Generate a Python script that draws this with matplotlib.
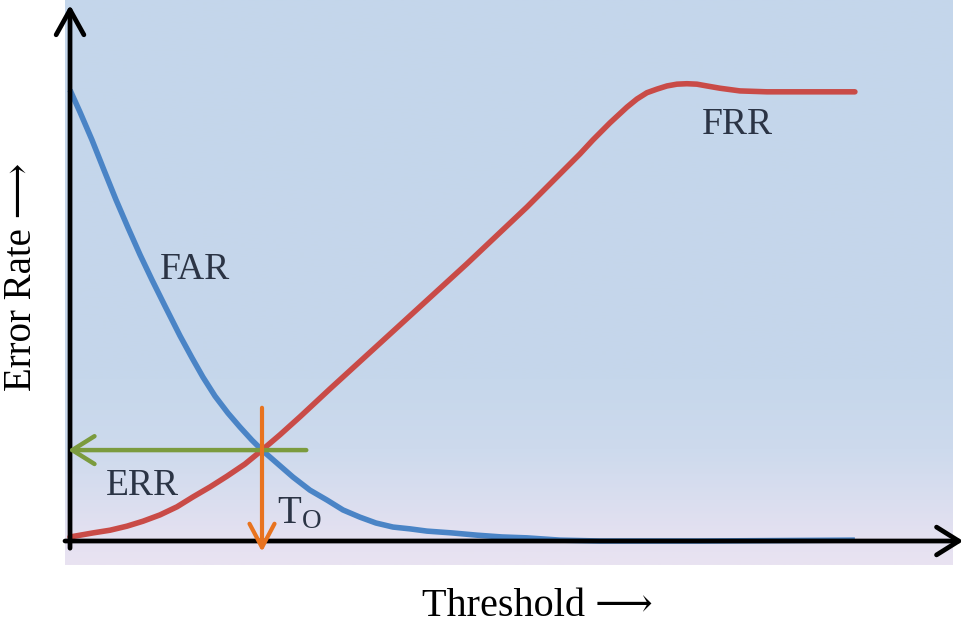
import numpy as np
import matplotlib
matplotlib.use('Agg')
import matplotlib.pyplot as plt

# Curves (threshold 0-100, error rate 0-100)
far_x = [0.0, 1.27, 2.80, 4.33, 5.86, 7.39, 8.92, 10.45, 12.10, 14.01, 15.54,
         16.94, 18.47, 20.13, 21.66, 23.18, 24.46, 26.50, 28.41, 30.57, 32.74,
         34.78, 36.94, 38.98, 41.15, 43.31, 45.48, 48.66, 51.85, 55.03, 58.22,
         62.42, 67.52, 80.25, 100.0]
far_y = [100.2, 95.3, 89.1, 82.4, 75.8, 69.6, 63.6, 58.0, 52.2, 45.6, 40.7,
         36.4, 32.2, 28.4, 25.3, 22.4, 20.2, 17.1, 14.2, 11.3, 9.1,
         6.9, 5.3, 4.0, 3.1, 2.7, 2.2, 1.8, 1.3, 0.9, 0.7,
         0.2, 0.0, 0.0, 0.2]

frr_x = [0.0, 2.93, 5.10, 7.26, 9.30, 11.46, 13.63, 15.67, 17.83, 20.0, 22.29,
         24.46, 26.75, 29.30, 33.12, 42.04, 50.57, 58.22, 63.31, 64.97, 66.62,
         68.79, 70.96, 72.23, 73.50, 74.78, 76.05, 77.32, 78.60, 79.87, 81.15,
         82.80, 85.35, 88.79, 100.0]
frr_y = [0.9, 1.8, 2.4, 3.3, 4.4, 5.8, 7.6, 9.8, 12.0, 14.4, 17.1,
         20.2, 23.6, 27.6, 33.8, 48.0, 61.6, 74.2, 83.1, 86.0, 89.1,
         92.9, 96.4, 98.2, 99.6, 100.4, 101.1, 101.5, 101.6, 101.5, 101.1,
         100.6, 100.0, 99.8, 99.8]

# equal error point and threshold
err_point = (24.46, 20.2)
labels = {'FAR': (15.9, 60.2), 'ERR': (9.2, 12.2), 'FRR': (85.0, 92.4)}

TEXT_COLOR = '#2b3445'
SERIF = ['Liberation Serif', 'DejaVu Serif', 'DejaVu Sans']

fig = plt.figure(figsize=(9.68, 6.3), dpi=100)
ax = fig.add_axes([65 / 968, 65 / 630, 888 / 968, 565 / 630])
xlim = (-0.64, 112.5)
ylim = (-5.33, 120.2)
ax.set_xlim(xlim)
ax.set_ylim(ylim)
ax.axis('off')

# background gradient: blue over most of the plot, lavender near the bottom
pos = np.array([0.0, 0.044, 0.115, 0.204, 0.327, 1.0])   # fraction from bottom
cols = np.array([
    [233, 227, 241],
    [229, 225, 241],
    [218, 222, 239],
    [205, 218, 237],
    [198, 215, 235],
    [196, 214, 235],
]) / 255.0
t = np.linspace(0, 1, 500)
grad = np.stack([np.interp(t, pos, cols[:, i]) for i in range(3)], axis=-1)
grad = grad[::-1][:, None, :]
ax.imshow(grad, extent=[xlim[0], xlim[1], ylim[0], ylim[1]], aspect='auto',
          zorder=0, interpolation='bilinear')

# curves
ax.plot(far_x, far_y, color='#4a84c6', lw=4.0, solid_capstyle='butt',
        solid_joinstyle='round', zorder=3)
ax.plot(frr_x, frr_y, color='#c94b47', lw=4.0, solid_capstyle='round',
        solid_joinstyle='round', zorder=3)


def arrow(tail, tip, color, lw, hl, hw):
    ax.annotate('', xy=tip, xytext=tail,
                arrowprops=dict(arrowstyle=f'->,head_length={hl},head_width={hw}',
                                color=color, lw=lw, shrinkA=0, shrinkB=0,
                                mutation_scale=20),
                annotation_clip=False, zorder=5)


# axes with open arrow heads
arrow((0.0, -1.6), (0.0, 119.1), 'black', 3.4, 0.9, 0.5)
arrow((-0.64, 0.0), (113.8, 0.0), 'black', 3.4, 0.8, 0.5)

# ERR (green) and threshold (orange) markers
arrow((30.1, err_point[1]), (-0.25, err_point[1]), '#7b9b3e', 3.2, 0.8, 0.5)
arrow((err_point[0], 29.6), (err_point[0], -2.4), '#e8731f', 3.0, 0.85, 0.45)

for name, (x, y) in labels.items():
    ax.text(x, y, name, ha='center', va='center', fontsize=27,
            color=TEXT_COLOR, family=SERIF, zorder=6)
ax.text(26.4, 4.0, r'$\mathregular{T_O}$', ha='left', va='baseline',
        fontsize=28, color=TEXT_COLOR, family=SERIF, zorder=6)

fig.text(537 / 968, 1 - 607 / 630, 'Threshold \u27f6', ha='center', va='center',
         fontsize=29, color='black', family=SERIF)
fig.text(22 / 968, 1 - 277 / 630, 'Error Rate \u27f6', ha='center', va='center',
         rotation=90, fontsize=28, color='black', family=SERIF)

fig.savefig('out.png', dpi=100)
